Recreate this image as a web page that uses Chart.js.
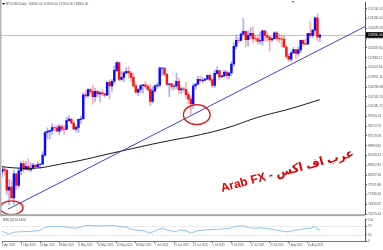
<!DOCTYPE html>
<html><head><meta charset="utf-8">
<script src="https://cdn.jsdelivr.net/npm/chart.js@4.4.1/dist/chart.umd.min.js"></script>
<style>
html,body{margin:0;padding:0;background:#fff;overflow:hidden}
#wrap{position:relative;width:383px;height:250px;background:#fff}
#main{position:absolute;left:0;top:0}
#rsi{position:absolute;left:0;top:217px}
</style></head><body>
<div id="wrap">
<canvas id="main" width="383" height="217"></canvas>
<canvas id="rsi" width="383" height="33"></canvas>
</div>
<script>
// ---------- DATA ----------
const symbol = "BTCUSD,Daily";
// bar index 0 = 4 Apr 2025, one bar per day
const opens = [83100,83850,83500,78350,79150,76300,82600,79600,83400,85300,
83750,84550,83650,84000,84900,84450,85050,85150,87500,93400,
93700,93950,94700,94650,93750,94950,94250,94200,96500,96900,
95900,94300,94750,96850,97000,103250,102950,104650,104100,102800,
104150,103500,103750,103500,103150,106500,105600,106800,109650,111700,
107300,107800,109000,109400,108950,107800,105600,103950,104650,105650,
105850,105450,104700,101500,104300,105600,105750,110250,110250,108650,
105950,106100,105450,105550,106800,104550,104850,104650,103300,102150,
100950,105550,106050,107300,106950,107100,107350,108350,107150,105700,
108850,109600,107950,108200,109200,108250,108950,111300,115950,117500,
117450,119100,119850,117700,118750,119300,117950,117900,117300,117400,
119950,118750,118350,117600,117900,119450,118050,117900,117800,115750,
113300,112550,114200,115050,114100,115000,117500,116650,116500,119300,
118700,120150,123350,118350];
const highs = [84700,84250,83800,81200,80850,83550,82700,84250,85900,86100,
85800,86500,85500,85450,85100,85600,85300,88450,93850,94650,
94000,95750,95250,95350,95600,95450,95200,97450,97900,96950,
96300,95200,96900,97700,103800,104300,104950,104950,105800,104950,
104350,104150,104550,103700,106650,107100,107300,110800,111950,111800,
109450,109300,110400,110700,109300,108900,106300,104950,105900,105950,
106800,105950,105900,105350,105900,106400,110550,110450,110400,108800,
106200,106200,106100,108950,107750,105550,105250,106550,104000,103000,
106100,106300,108100,108250,107750,107550,108500,108800,107550,109700,
110550,109750,108400,109700,109700,109150,111950,116750,118850,118200,
119450,123200,119950,120000,120850,120950,118850,118850,119700,120200,
120100,119500,118450,118300,119750,119800,119250,118800,118900,116100,
114050,114700,115750,115100,115700,117650,117650,117900,119300,122300,
120300,123650,124450,119200];
const lows = [81650,82350,77150,74500,76200,74650,78450,78950,82300,82950,
83700,83600,83100,83750,84300,84400,83950,85100,87100,91850,
91700,92900,93900,93600,92850,93750,92950,94150,96350,95750,
94200,93550,93400,95800,96950,102350,102850,103400,100800,101450,
102650,101400,103100,102650,103150,102100,104200,106100,109300,106800,
106900,106650,108700,107600,106850,105350,103650,103100,103850,103700,
104900,104150,100400,101150,103950,104950,105350,108350,108100,105700,
102800,104450,104550,104900,103400,103550,103900,102350,100850,98200,
99700,104650,105950,106650,106400,106850,107200,106750,105300,105200,
108600,107300,107850,107850,107550,107500,108350,110700,115250,116950,
117300,118950,115750,116000,117850,116850,117300,116500,116550,116150,
117300,117200,114700,117200,117850,117450,116950,115750,115550,112700,
112000,112000,114100,112650,113400,114250,115900,116300,116500,118100,
118200,118950,117200,117200];
const closes = [83850,83500,78350,79150,76300,82600,79600,83400,85300,83750,
84550,83650,84000,84900,84450,85050,85150,87500,93400,93700,
93950,94700,94650,93750,94950,94250,94200,96500,96900,95900,
94300,94750,96850,97000,103250,102950,104650,104100,102800,104150,
103500,103750,103500,103150,106500,105600,106800,109650,111700,107300,
107800,109000,109400,108950,107800,105600,103950,104650,105650,105850,
105450,104700,101500,104300,105600,105750,110250,110250,108650,105950,
106100,105450,105550,106800,104550,104850,104650,103300,102150,100950,
105550,106050,107300,106950,107100,107350,108350,107150,105700,108850,
109600,107950,108200,109200,108250,108950,111300,115950,117500,117450,
119100,119850,117700,118750,119300,117950,117900,117300,117400,119950,
118750,118350,117600,117900,119450,118050,117900,117800,115750,113300,
112550,114200,115050,114100,115000,117500,116650,116500,119300,118700,
120150,123350,118350,118900];

// moving average (black line) at sample bars
const maIdx = [0,8,16,24,33,41,52,67,83,95,107,121,133];
const maVal = [84460,84070,84200,85100,86140,87300,88850,90900,92850,94780,97360,99680,102000];

// trend line end points (bar index, price)
const trendIdx = [2.5,151.9];
const trendPrice = [73365,121095];

// highlighted ellipses (bar index, price)
const circleIdx = [4.0,81.5];
const circlePrice = [73750,98060];

// RSI(14) at sample bars
const rsiIdx = [0,3,5,12,16,18,20,24,31,35,41,47,49,52,55,59,62,65,67,70,73,74,77,79,82,86,90,95,98,101,103,105,108,112,116,119,122,126,129,131,132,133];
const rsiVal = [46,33,42,46,50,64,68,69,60,74,71,73,69,66,53,49,38,52,60,49,44,52,48,37,49,53,55,60,70,72,65,60,62,57,49,43,49,57,60,69,53,54.14];
const rsiLevels = [70,30];
const rsiTicks = [100,70,30,0];

// price axis tick labels
const priceTicks = [125740.52,123185.04,120629.56,118074.08,115518.60,112963.12,110407.64,107852.16,105296.68,102741.20,100185.72,97630.24,95074.76,92519.28,89963.80,87408.32,84852.84,82297.36,79741.88,77186.40,74630.92,72075.44];

// date axis labels
const dateIdx = [0,8,16,24,32,40,48,56,64,72,80,88,96,104,112,120,128];
const dateLabels = ["4 Apr 2025","12 Apr 2025","20 Apr 2025","28 Apr 2025","6 May 2025","14 May 2025","22 May 2025","30 May 2025","7 Jun 2025","15 Jun 2025","23 Jun 2025","1 Jul 2025","9 Jul 2025","17 Jul 2025","25 Jul 2025","2 Aug 2025","10 Aug 2025"];

const watermark = "Arab FX - عرب اف اكس";

// ---------- CHART ----------
const X_MIN = 0, X_MAX = 151.9;
const Y_MIN = 72075.44, Y_MAX = 127287.44;
const N = closes.length;
const bull = i => closes[i] >= opens[i];
const tinyFont = {size: 3.1, family: "'Liberation Sans', Arial, sans-serif"};
const dateFont = {size: 2.7, family: "'Liberation Sans', Arial, sans-serif"};

const mainPlugin = {
  id: 'mainDecor',
  beforeDraw(chart) {
    const c = chart.ctx;
    c.save(); c.fillStyle = '#fff'; c.fillRect(0, 0, chart.width, chart.height); c.restore();
  },
  beforeDatasetsDraw(chart) {
    const c = chart.ctx, a = chart.chartArea, y = chart.scales.y;
    const py = Math.round(y.getPixelForValue(closes[N - 1])) + 0.5;
    c.save();
    c.strokeStyle = '#c4c4c4'; c.lineWidth = 1;
    c.beginPath(); c.moveTo(0, py); c.lineTo(a.right, py); c.stroke();
    c.restore();
  },
  afterDatasetsDraw(chart) {
    const c = chart.ctx, a = chart.chartArea, x = chart.scales.x, y = chart.scales.y;
    c.save();
    // ellipses
    c.strokeStyle = '#e01010'; c.lineWidth = 1.3;
    const radii = [[11.5, 6.8], [13.3, 10]];
    circleIdx.forEach((ci, k) => {
      c.beginPath();
      c.ellipse(x.getPixelForValue(ci), y.getPixelForValue(circlePrice[k]), radii[k][0], radii[k][1], 0, 0, Math.PI * 2);
      c.stroke();
    });
    // watermark
    c.save();
    c.translate(222, 192);
    c.rotate(-15 * Math.PI / 180);
    c.fillStyle = '#e00000';
    c.font = "bold 12px 'Liberation Sans', 'DejaVu Sans', sans-serif";
    c.textBaseline = 'alphabetic';
    c.fillText(watermark, 0, 0);
    c.restore();
    // header text
    c.fillStyle = '#222';
    c.beginPath(); c.moveTo(2, 3); c.lineTo(5, 3); c.lineTo(3.5, 5); c.closePath(); c.fill();
    c.fillStyle = '#555';
    c.font = "3.1px 'Liberation Sans', Arial, sans-serif";
    c.textBaseline = 'middle';
    const last = N - 1;
    c.fillText(symbol + '  ' + opens[last].toFixed(2) + ' ' + highs[last].toFixed(2) + ' ' + lows[last].toFixed(2) + ' ' + closes[last].toFixed(2), 6, 4.2);
    // shift marker
    c.fillStyle = '#888';
    c.beginPath(); c.moveTo(291.5, 1); c.lineTo(294.5, 1); c.lineTo(293, 3); c.closePath(); c.fill();
    // bid box
    const py = y.getPixelForValue(closes[last]);
    c.fillStyle = '#000';
    c.fillRect(a.right + 1, py - 2.8, chart.width - a.right - 1, 5.6);
    c.fillStyle = '#fff';
    c.textBaseline = 'middle';
    c.fillText(closes[last].toFixed(2), a.right + 3, py);
    // left frame and pane separator
    c.fillStyle = '#b4b4b4';
    c.fillRect(0, 0, 1.5, a.bottom);
    c.fillStyle = '#a8a8a8';
    c.fillRect(0, a.bottom, a.right, 2);
    c.restore();
  }
};

new Chart(document.getElementById('main'), {
  type: 'bar',
  data: {
    datasets: [
      {
        type: 'line', data: trendIdx.map((v, i) => ({x: v, y: trendPrice[i]})),
        borderColor: '#4343c6', borderWidth: 1, pointRadius: 0, order: 0
      },
      {
        type: 'line', data: maIdx.map((v, i) => ({x: v, y: maVal[i]})),
        borderColor: '#1a1a1a', borderWidth: 1, pointRadius: 0, tension: 0.4, order: 1
      },
      {
        type: 'bar', data: closes.map((_, i) => ({x: i, y: [opens[i], closes[i]]})),
        backgroundColor: ctx => bull(ctx.dataIndex) ? '#0a0aff' : '#ff1010',
        barThickness: 1.8, grouped: false, borderWidth: 0, order: 2
      },
      {
        type: 'bar', data: closes.map((_, i) => ({x: i, y: [lows[i], highs[i]]})),
        backgroundColor: ctx => bull(ctx.dataIndex) ? 'rgba(70,70,255,0.45)' : 'rgba(255,70,70,0.45)',
        barThickness: 1, grouped: false, borderWidth: 0, order: 3
      }
    ]
  },
  options: {
    responsive: false, animation: false, events: [],
    layout: {padding: {left: 2, top: 1, right: 0, bottom: 2}},
    plugins: {legend: {display: false}, tooltip: {enabled: false}},
    scales: {
      x: {type: 'linear', min: X_MIN, max: X_MAX, offset: false, display: false},
      y: {
        type: 'linear', position: 'right', min: Y_MIN, max: Y_MAX,
        afterBuildTicks(s) { s.ticks = priceTicks.map(v => ({value: v})); },
        afterFit(s) { s.width = 18; },
        ticks: {font: tinyFont, color: '#555', padding: 1, autoSkip: false, callback: v => Number(v).toFixed(2)},
        grid: {drawOnChartArea: false, drawTicks: true, tickLength: 2, color: '#666'},
        border: {display: true, color: '#555'}
      }
    }
  },
  plugins: [mainPlugin]
});

const rsiPlugin = {
  id: 'rsiDecor',
  beforeDraw(chart) {
    const c = chart.ctx;
    c.save(); c.fillStyle = '#fff'; c.fillRect(0, 0, chart.width, chart.height); c.restore();
  },
  beforeDatasetsDraw(chart) {
    const c = chart.ctx, a = chart.chartArea, y = chart.scales.y;
    c.save();
    c.strokeStyle = '#b8b8b8'; c.lineWidth = 0.7; c.setLineDash([1, 1.5]);
    rsiLevels.forEach(l => {
      const py = Math.round(y.getPixelForValue(l)) + 0.5;
      c.beginPath(); c.moveTo(a.left, py); c.lineTo(a.right, py); c.stroke();
    });
    c.setLineDash([]);
    c.fillStyle = '#444';
    c.font = "3.1px 'Liberation Sans', Arial, sans-serif";
    c.textBaseline = 'middle';
    c.fillText('RSI(14) ' + rsiVal[rsiVal.length - 1].toFixed(4), 3, 3.3);
    c.restore();
  }
};

new Chart(document.getElementById('rsi'), {
  type: 'line',
  data: {
    datasets: [{
      data: rsiIdx.map((v, i) => ({x: v, y: rsiVal[i]})),
      borderColor: '#8cc4f6', borderWidth: 1, pointRadius: 0, tension: 0
    }]
  },
  options: {
    responsive: false, animation: false, events: [],
    layout: {padding: {left: 2, top: 1, right: 0, bottom: 0}},
    plugins: {legend: {display: false}, tooltip: {enabled: false}},
    scales: {
      x: {
        type: 'linear', min: X_MIN, max: X_MAX, offset: false, position: 'bottom',
        afterBuildTicks(s) { s.ticks = dateIdx.map(v => ({value: v})); },
        afterFit(s) { s.height = 9; },
        ticks: {font: dateFont, color: '#555', padding: 0.5, align: 'start', maxRotation: 0, autoSkip: false,
          callback: (v, i) => dateLabels[i]},
        grid: {drawOnChartArea: false, drawTicks: true, tickLength: 2, color: '#666'},
        border: {display: true, color: '#777'}
      },
      y: {
        type: 'linear', position: 'right', min: 0, max: 100,
        afterBuildTicks(s) { s.ticks = rsiTicks.map(v => ({value: v})); },
        afterFit(s) { s.width = 18; },
        ticks: {font: tinyFont, color: '#555', padding: 1, autoSkip: false, callback: v => String(v)},
        grid: {drawOnChartArea: false, drawTicks: true, tickLength: 2, color: '#666'},
        border: {display: true, color: '#555'}
      }
    }
  },
  plugins: [rsiPlugin]
});
</script>
</body></html>
